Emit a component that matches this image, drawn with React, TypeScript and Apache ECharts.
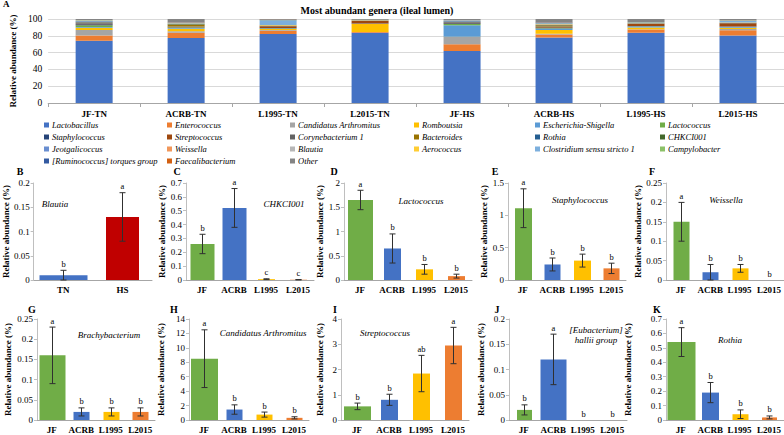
import React, { useEffect, useRef } from 'react';
import * as echarts from 'echarts';

const FONT = 'Liberation Serif, Times New Roman, serif';

// ---------- Panel A data ----------
const sampleGroups = ['JF-TN', 'ACRB-TN', 'L1995-TN', 'L2015-TN', 'JF-HS', 'ACRB-HS', 'L1995-HS', 'L2015-HS'];
const generaNames = [
  'Lactobacillus', 'Enterococcus', 'Candidatus Arthromitus', 'Romboutsia', 'Escherichia-Shigella', 'Lactococcus',
  'Staphylococcus', 'Streptococcus', 'Corynebacterium 1', 'Bacteroides', 'Rothia', 'CHKCI001',
  'Jeotgalicoccus', 'Weissella', 'Blautia', 'Aerococcus', 'Clostridium sensu stricto 1', 'Campylobacter',
  '[Ruminococcus] torques group', 'Faecalibacterium', 'Other',
];
const lactobacillus = [74, 77.5, 82, 83.5, 62, 78, 83.5, 80.5];
const enterococcus = [6.5, 6, 4, 1.0, 8, 3.5, 4, 6];
const candidatusArthromitus = [6.5, 2, 0.8, 0.1, 8.5, 1.0, 0.3, 1.5];
const romboutsia = [2.5, 3, 1.2, 9.5, 0.5, 4.5, 2, 1.5];
const escherichiaShigella = [1.0, 0.8, 0.8, 0.2, 13.5, 1.5, 1.2, 1.2];
const lactococcus = [2.0, 0.7, 0.3, 0.05, 1.5, 0.6, 0.3, 0.2];
const staphylococcus = [1.2, 0.3, 0.3, 0.2, 1.0, 0.2, 0.3, 0.2];
const streptococcus = [0.5, 0.5, 2.0, 3.3, 0.5, 1.0, 2.5, 3.8];
const corynebacterium1 = [1.5, 0.3, 0.3, 0.2, 1.0, 0.8, 0.5, 0.3];
const bacteroides = [0.3, 2.5, 0.4, 0.2, 0.3, 1.5, 0.3, 0.2];
const rothia = [0.6, 0.2, 0.05, 0.02, 0.4, 0.2, 0.03, 0.02];
const chkci001 = [0.3, 0.5, 0.01, 0, 0.2, 0.5, 0.01, 0];
const jeotgalicoccus = [0.6, 0.2, 0.1, 0.05, 0.2, 0.3, 0.1, 0.05];
const weissella = [0.15, 0.02, 0.03, 0, 0.15, 0.02, 0.03, 0];
const blautia = [0.01, 0.01, 0.01, 0.01, 0.1, 0.1, 0.1, 0.1];
const aerococcus = [0.2, 0.3, 0.5, 0.3, 0.3, 0.4, 0.3, 0.3];
const clostridiumSS1 = [0.4, 0.3, 5.5, 0.3, 0.3, 0.6, 0.5, 2.3];
const campylobacter = [0.2, 0.2, 0.3, 0.1, 0.2, 0.3, 0.2, 0.2];
const ruminococcusTorques = [0.1, 0.2, 0.2, 0.1, 0.1, 0.7, 0.2, 0.2];
const faecalibacterium = [0.1, 0.2, 0.2, 0.1, 0.1, 0.3, 0.1, 0.2];
const other = [1.3, 4.3, 1.0, 0.8, 1.15, 4.0, 3.5, 1.2];

const generaValues = [
  lactobacillus, enterococcus, candidatusArthromitus, romboutsia, escherichiaShigella, lactococcus,
  staphylococcus, streptococcus, corynebacterium1, bacteroides, rothia, chkci001,
  jeotgalicoccus, weissella, blautia, aerococcus, clostridiumSS1, campylobacter,
  ruminococcusTorques, faecalibacterium, other,
];
const generaColors = [
  '#4472C4', '#ED7D31', '#A5A5A5', '#FFC000', '#5B9BD5', '#70AD47',
  '#264478', '#9E480E', '#636363', '#997300', '#255E91', '#43682B',
  '#698ED0', '#F1975A', '#B7B7B7', '#FFCD33', '#7CAFDD', '#8CC168',
  '#335AA1', '#D26012', '#848484',
];

// ---------- Panels B-K data ----------
const twoGroups = ['TN', 'HS'];
const lineGroups = ['JF', 'ACRB', 'L1995', 'L2015'];

const blautiaMean = [0.01, 0.13];
const blautiaErr = [0.01, 0.05];
const blautiaLetters = ['b', 'a'];

const chkciMean = [0.26, 0.52, 0.006, 0.002];
const chkciErr = [0.07, 0.14, 0.003, 0.001];
const chkciLetters = ['b', 'a', 'c', 'c'];

const lactococcusMean = [1.65, 0.65, 0.22, 0.08];
const lactococcusErr = [0.2, 0.3, 0.1, 0.04];
const lactococcusLetters = ['a', 'b', 'b', 'b'];

const staphMean = [1.11, 0.24, 0.3, 0.18];
const staphErr = [0.3, 0.1, 0.1, 0.08];
const staphLetters = ['a', 'b', 'b', 'b'];

const weissellaMean = [0.15, 0.02, 0.03, 0];
const weissellaErr = [0.05, 0.02, 0.01, 0];
const weissellaLetters = ['a', 'b', 'b', 'b'];

const brachyMean = [0.16, 0.02, 0.02, 0.02];
const brachyErr = [0.07, 0.01, 0.01, 0.01];
const brachyLetters = ['a', 'b', 'b', 'b'];

const candidMean = [8.5, 1.45, 0.75, 0.3];
const candidErr = [4.0, 0.65, 0.35, 0.15];
const candidLetters = ['a', 'b', 'b', 'b'];

const strepMean = [0.54, 0.8, 1.84, 2.95];
const strepErr = [0.13, 0.22, 0.72, 0.72];
const strepLetters = ['b', 'b', 'ab', 'a'];

const eubactMean = [0.02, 0.12, 0, 0];
const eubactErr = [0.01, 0.05, 0, 0];
const eubactLetters = ['b', 'a', 'b', 'b'];

const rothiaMean = [0.54, 0.19, 0.04, 0.018];
const rothiaErr = [0.1, 0.07, 0.03, 0.01];
const rothiaLetters = ['a', 'b', 'b', 'b'];

// ---------- styles / layout ----------
const lineColors = ['#70AD47', '#4472C4', '#FFC000', '#ED7D31'];
const twoColors = ['#4472C4', '#C00000'];
const AXIS_GREY = '#A6A6A6';

type Panel = {
  id: string; genus: string; cats: string[]; mean: number[]; err: number[]; letters: string[];
  colors: string[]; yMax: number; yStep: number; left: number; width: number; top: number; height: number;
  barW: number[]; nameGap: number; letterPos: [number, number]; genusPos: [number, number];
};

const ROW1 = { top: 183, height: 97 };
const ROW2 = { top: 319, height: 101 };
const L1Y = 171;
const L2Y = 309;

const panels: Panel[] = [
  { id: 'B', genus: 'Blautia', cats: twoGroups, mean: blautiaMean, err: blautiaErr, letters: blautiaLetters, colors: twoColors, yMax: 0.2, yStep: 0.05, left: 32, width: 120, ...ROW1, barW: [48, 33], nameGap: 21, letterPos: [20, L1Y], genusPos: [55, 204] },
  { id: 'C', genus: 'CHKCI001', cats: lineGroups, mean: chkciMean, err: chkciErr, letters: chkciLetters, colors: lineColors, yMax: 0.7, yStep: 0.1, left: 186, width: 128, ...ROW1, barW: [24, 24, 17, 17], nameGap: 18, letterPos: [177, L1Y], genusPos: [284, 204] },
  { id: 'D', genus: 'Lactococcus', cats: lineGroups, mean: lactococcusMean, err: lactococcusErr, letters: lactococcusLetters, colors: lineColors, yMax: 2, yStep: 0.5, left: 344, width: 128, ...ROW1, barW: [25, 17, 17, 17], nameGap: 20, letterPos: [334, L1Y], genusPos: [421, 201] },
  { id: 'E', genus: 'Staphylococcus', cats: lineGroups, mean: staphMean, err: staphErr, letters: staphLetters, colors: lineColors, yMax: 1.5, yStep: 0.5, left: 508, width: 118, ...ROW1, barW: [17, 16, 17, 16], nameGap: 20, letterPos: [495, L1Y], genusPos: [580, 200] },
  { id: 'F', genus: 'Weissella', cats: lineGroups, mean: weissellaMean, err: weissellaErr, letters: weissellaLetters, colors: lineColors, yMax: 0.25, yStep: 0.05, left: 666, width: 118, ...ROW1, barW: [16, 16, 16, 16], nameGap: 23, letterPos: [652, L1Y], genusPos: [726, 200] },
  { id: 'G', genus: 'Brachybacterium', cats: lineGroups, mean: brachyMean, err: brachyErr, letters: brachyLetters, colors: lineColors, yMax: 0.25, yStep: 0.05, left: 37, width: 118, ...ROW2, barW: [26, 16, 16, 16], nameGap: 25, letterPos: [32, L2Y], genusPos: [109, 335] },
  { id: 'H', genus: 'Candidatus Arthromitus', cats: lineGroups, mean: candidMean, err: candidErr, letters: candidLetters, colors: lineColors, yMax: 14, yStep: 2, left: 189, width: 120, ...ROW2, barW: [27, 16, 16, 16], nameGap: 24, letterPos: [174, L2Y], genusPos: [263, 333] },
  { id: 'I', genus: 'Streptococcus', cats: lineGroups, mean: strepMean, err: strepErr, letters: strepLetters, colors: lineColors, yMax: 4, yStep: 1, left: 341, width: 128, ...ROW2, barW: [27, 17, 17, 17], nameGap: 17, letterPos: [335, L2Y], genusPos: [385, 333] },
  { id: 'J', genus: '[Eubacterium]\nhallii group', cats: lineGroups, mean: eubactMean, err: eubactErr, letters: eubactLetters, colors: lineColors, yMax: 0.2, yStep: 0.05, left: 509, width: 118, ...ROW2, barW: [15, 26, 16, 16], nameGap: 24, letterPos: [497, L2Y], genusPos: [596, 335] },
  { id: 'K', genus: 'Rothia', cats: lineGroups, mean: rothiaMean, err: rothiaErr, letters: rothiaLetters, colors: lineColors, yMax: 0.7, yStep: 0.1, left: 666, width: 118, ...ROW2, barW: [28, 17, 16, 15], nameGap: 34, letterPos: [657, L2Y], genusPos: [730, 340] },
];

const legendColX = [44, 167, 290, 414, 535, 660];

function makeRender(p: Panel) {
  return (params: any, api: any) => {
    const idx = params.dataIndex;
    const i = api.value(0);
    const v = api.value(1);
    const e = api.value(2);
    const base = api.coord([i, 0]);
    const top = api.coord([i, v]);
    const hi = api.coord([i, v + e]);
    const lo = api.coord([i, Math.max(0, v - e)]);
    const w = p.barW[idx];
    const cx = Math.round(base[0]) + 0.5;
    const children: any[] = [];
    if (v > 0) {
      children.push({
        type: 'rect',
        shape: { x: cx - w / 2, y: top[1], width: w, height: base[1] - top[1] },
        style: { fill: p.colors[idx] },
      });
    }
    if (e > 0) {
      const st = { stroke: '#303030', lineWidth: 1 };
      children.push({ type: 'line', shape: { x1: cx, y1: hi[1], x2: cx, y2: lo[1] }, style: st });
      children.push({ type: 'line', shape: { x1: cx - 3, y1: hi[1], x2: cx + 3, y2: hi[1] }, style: st });
      children.push({ type: 'line', shape: { x1: cx - 3, y1: lo[1], x2: cx + 3, y2: lo[1] }, style: st });
    }
    const ty = (e > 0 ? hi[1] : top[1]) - 2;
    children.push({
      type: 'text',
      x: cx,
      y: ty,
      style: {
        text: p.letters[idx],
        font: `8.5px ${FONT}`,
        fill: '#000',
        align: 'center',
        verticalAlign: 'bottom',
        textAlign: 'center',
        textVerticalAlign: 'bottom',
      },
    });
    return { type: 'group', children };
  };
}

function buildOption() {
  const grid: any[] = [{ left: 38, top: 19, width: 746, height: 84 }];
  const xAxis: any[] = [{
    type: 'category', gridIndex: 0, data: sampleGroups,
    axisLine: { lineStyle: { color: AXIS_GREY } },
    axisTick: { show: true, length: 4, lineStyle: { color: AXIS_GREY } },
    axisLabel: { fontFamily: FONT, fontWeight: 'bold', fontSize: 9, color: '#000', margin: 6, interval: 0 },
  }];
  const yAxis: any[] = [{
    type: 'value', gridIndex: 0, min: 0, max: 100, interval: 20,
    axisLine: { show: false }, axisTick: { show: false },
    splitLine: { lineStyle: { color: '#D9D9D9' } },
    axisLabel: { fontFamily: FONT, fontSize: 9.5, color: '#000', margin: 6 },
    name: 'Relative abundance (%)', nameLocation: 'middle', nameGap: 27,
    nameTextStyle: { fontFamily: FONT, fontWeight: 'bold', fontSize: 9, color: '#000' },
  }];
  const series: any[] = generaNames.map((name, k) => ({
    type: 'bar', name, stack: 'total', xAxisIndex: 0, yAxisIndex: 0,
    data: generaValues[k], barWidth: 37, itemStyle: { color: generaColors[k] },
  }));

  const graphic: any[] = [
    { type: 'text', x: 3, y: 4, style: { text: 'A', font: `bold 9px ${FONT}`, fill: '#000', align: 'left', verticalAlign: 'middle', textAlign: 'left', textVerticalAlign: 'middle' } },
    { type: 'text', x: 377, y: 10, style: { text: 'Most abundant genera (ileal lumen)', font: `bold 10px ${FONT}`, fill: '#000', align: 'center', verticalAlign: 'middle', textAlign: 'center', textVerticalAlign: 'middle' } },
  ];

  panels.forEach((p, n) => {
    const gi = n + 1;
    grid.push({ left: p.left, top: p.top, width: p.width, height: p.height });
    xAxis.push({
      type: 'category', gridIndex: gi, data: p.cats,
      axisLine: { lineStyle: { color: AXIS_GREY } }, axisTick: { show: false },
      axisLabel: { fontFamily: FONT, fontWeight: 'bold', fontSize: 9, color: '#000', margin: 5, interval: 0 },
    });
    yAxis.push({
      type: 'value', gridIndex: gi, min: 0, max: p.yMax, interval: p.yStep,
      axisLine: { show: true, lineStyle: { color: '#BFBFBF' } },
      axisTick: { show: true, length: 3, lineStyle: { color: '#BFBFBF' } },
      splitLine: { show: false },
      axisLabel: { fontFamily: FONT, fontSize: 9, color: '#000', margin: 4 },
      name: 'Relative abundance (%)', nameLocation: 'middle', nameGap: p.nameGap,
      nameTextStyle: { fontFamily: FONT, fontWeight: 'bold', fontSize: 9, color: '#000' },
    });
    series.push({
      type: 'custom', name: `${p.id}-panel`, xAxisIndex: gi, yAxisIndex: gi,
      data: p.mean.map((m, i) => [i, m, p.err[i]]),
      encode: { x: 0, y: 1 },
      renderItem: makeRender(p),
    });
    graphic.push({
      type: 'text', x: p.letterPos[0], y: p.letterPos[1],
      style: { text: p.id, font: `bold 10px ${FONT}`, fill: '#000', align: 'center', verticalAlign: 'middle', textAlign: 'center', textVerticalAlign: 'middle' },
    });
    graphic.push({
      type: 'text', x: p.genusPos[0], y: p.genusPos[1],
      style: { text: p.genus, font: `italic 9px ${FONT}`, fill: '#000', lineHeight: 10, align: 'center', verticalAlign: 'middle', textAlign: 'center', textVerticalAlign: 'middle' },
    });
  });

  const legend = legendColX.map((x, c) => ({
    data: generaNames.filter((_, k) => k % 6 === c),
    orient: 'vertical', left: x, top: 120, padding: 0,
    itemWidth: 5, itemHeight: 5, itemGap: 2, icon: 'rect', selectedMode: false,
    textStyle: { fontFamily: FONT, fontStyle: 'italic', fontSize: 8.5, color: '#000', lineHeight: 10, padding: [0, 0, 0, -2] },
  }));

  return { animation: false, backgroundColor: '#fff', grid, xAxis, yAxis, series, legend, graphic };
}

export default function App() {
  const ref = useRef<HTMLDivElement>(null);
  useEffect(() => {
    if (!ref.current) return;
    const chart = echarts.init(ref.current, undefined, { renderer: 'svg' });
    chart.setOption(buildOption() as any);
    return () => chart.dispose();
  }, []);
  return <div ref={ref} style={{ position: 'fixed', left: 0, top: 0, width: 784, height: 435, background: '#fff' }} />;
}
